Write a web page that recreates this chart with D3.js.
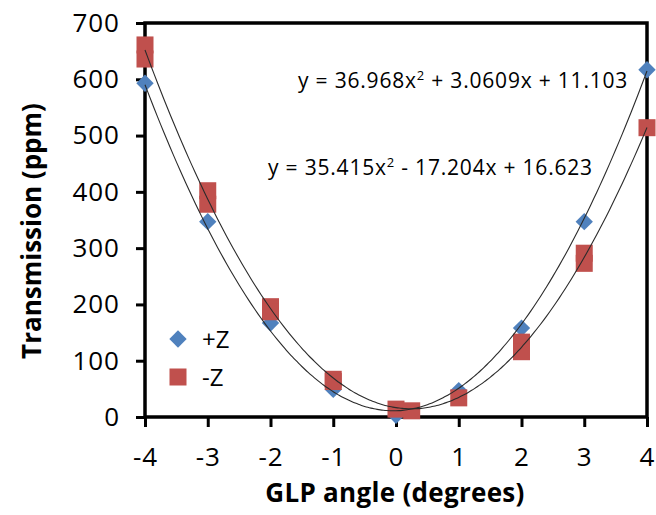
<!DOCTYPE html>
<html>
<head>
<meta charset="utf-8">
<script src="https://cdn.jsdelivr.net/npm/d3@7"></script>
<style>
  body { margin: 0; background: #fff; }
  svg { display: block; font-family: "Open Sans", "Noto Sans", sans-serif; }
</style>
</head>
<body>
<div id="chart"></div>
<script>
/*jshint esversion: 6 */

// +Z series
const plusAngles = [-4, -3, -2, -1, 0, 1, 2, 3, 4];
const plusValues = [593, 347, 167, 49, 3, 47, 158, 347, 617];

// -Z series (repeat measurements at some angles)
const minusAngles = [-4, -4, -3, -3, -2, -2, -1, -1, 0, 0.25, 1, 2, 2, 3, 3, 4];
const minusValues = [661, 636, 402, 378, 196, 187, 67, 63, 14, 11, 34, 133, 116, 291, 273, 514];

// trendline coefficients (a x^2 + b x + c), as printed on the chart
const plusFit = [36.968, 3.0609, 11.103];
const minusFit = [35.415, -17.204, 16.623];

const xTicks = [-4, -3, -2, -1, 0, 1, 2, 3, 4];
const yTicks = [0, 100, 200, 300, 400, 500, 600, 700];

const blue = '#4F81BD';
const red = '#C0504D';

class scatterChart {
  constructor(dom) {
    this.element = dom;
    this.draw();
  }

  draw() {
    this.margin = { top: 23, right: 9, bottom: 98, left: 145 };
    this.w = 656;
    this.h = 515;
    this.width = this.w - this.margin.left - this.margin.right;
    this.height = this.h - this.margin.top - this.margin.bottom;

    const svg = d3.select(this.element).append('svg')
      .attr('width', this.w)
      .attr('height', this.h);
    this.svg = svg;

    this.x = d3.scaleLinear().domain([-4, 4]).range([this.margin.left, this.margin.left + this.width]);
    this.y = d3.scaleLinear().domain([0, 700]).range([this.margin.top + this.height, this.margin.top]);

    this.drawAxes();
    this.drawPoints();
    this.drawText();
  }

  drawAxes() {
    const x = this.x, y = this.y, svg = this.svg;

    const xAxis = svg.append('g')
      .attr('transform', `translate(0,${y(0)})`)
      .call(d3.axisBottom(x).tickValues(xTicks).tickSize(10).tickSizeOuter(0).tickPadding(21).tickFormat(d3.format('d')));
    const yAxis = svg.append('g')
      .attr('transform', `translate(${x(-4)},0)`)
      .call(d3.axisLeft(y).tickValues(yTicks).tickSize(9).tickSizeOuter(0).tickPadding(16));

    [xAxis, yAxis].forEach(a => {
      a.select('.domain').remove();
      a.selectAll('line').attr('stroke', '#000').attr('stroke-width', 3);
      a.selectAll('text')
        .attr('font-family', '"Open Sans", sans-serif')
        .attr('font-size', '26px')
        .attr('letter-spacing', '1px')
        .attr('fill', '#000');
    });
    // plain hyphen for negatives, like the original
    xAxis.selectAll('text').text(d => d < 0 ? '-' + Math.abs(d) : d);

    // plot box
    svg.append('rect')
      .attr('x', x(-4))
      .attr('y', y(700))
      .attr('width', x(4) - x(-4))
      .attr('height', y(0) - y(700))
      .attr('fill', 'none')
      .attr('stroke', '#000')
      .attr('stroke-width', 3.5);
  }

  drawPoints() {
    const x = this.x, y = this.y, svg = this.svg;
    const diamond = d3.symbol().type(d3.symbolSquare).size(150);

    svg.append('g').selectAll('path')
      .data(plusAngles.map((a, i) => [a, plusValues[i]]))
      .enter().append('path')
      .attr('d', diamond)
      .attr('transform', d => `translate(${x(d[0])},${y(d[1])}) rotate(45)`)
      .attr('fill', blue);

    svg.append('g').selectAll('rect')
      .data(minusAngles.map((a, i) => [a, minusValues[i]]))
      .enter().append('rect')
      .attr('x', d => x(d[0]) - 8.5)
      .attr('y', d => y(d[1]) - 8.5)
      .attr('width', 17)
      .attr('height', 17)
      .attr('fill', red);

    // trendlines
    const poly = c => t => c[0] * t * t + c[1] * t + c[2];
    const xs = d3.range(-4, 4.0001, 0.05);
    const line = d3.line().x(d => x(d[0])).y(d => y(d[1])).curve(d3.curveMonotoneX);
    [plusFit, minusFit].forEach(c => {
      const f = poly(c);
      svg.append('path')
        .datum(xs.map(t => [t, f(t)]))
        .attr('d', line)
        .attr('fill', 'none')
        .attr('stroke', '#2b2b2b')
        .attr('stroke-width', 1.1);
    });
  }

  drawText() {
    const svg = this.svg;
    const fmt = v => String(Math.abs(v));

    const equation = (c, px, py) => {
      const t = svg.append('text')
        .attr('x', px).attr('y', py)
        .attr('font-size', '21px')
        .attr('letter-spacing', '0.8px')
        .attr('fill', '#000');
      t.append('tspan').text(`y = ${fmt(c[0])}x`);
      t.append('tspan').attr('dy', -8).attr('font-size', '13px').text('2');
      t.append('tspan').attr('dy', 8)
        .text(` ${c[1] < 0 ? '-' : '+'} ${fmt(c[1])}x + ${fmt(c[2])}`);
    };
    equation(plusFit, 298, 88);
    equation(minusFit, 268, 175);

    // legend
    svg.append('path')
      .attr('d', d3.symbol().type(d3.symbolSquare).size(150))
      .attr('transform', 'translate(178,339) rotate(45)')
      .attr('fill', blue);
    svg.append('rect')
      .attr('x', 169.5).attr('y', 368.5)
      .attr('width', 17).attr('height', 17)
      .attr('fill', red);
    svg.append('text').attr('x', 202).attr('y', 348).attr('font-size', '24px').text('+Z');
    svg.append('text').attr('x', 202).attr('y', 386).attr('font-size', '24px').text('-Z');

    // axis titles
    svg.append('text')
      .attr('x', 395).attr('y', 502)
      .attr('text-anchor', 'middle')
      .attr('font-size', '26px')
      .attr('font-weight', 'bold')
      .attr('letter-spacing', '0.3px')
      .text('GLP angle (degrees)');
    svg.append('text')
      .attr('transform', 'translate(41,231) rotate(-90)')
      .attr('text-anchor', 'middle')
      .attr('font-size', '26px')
      .attr('font-weight', 'bold')
      .text('Transmission (ppm)');
  }
}

new scatterChart(document.getElementById('chart'));
</script>
</body>
</html>
